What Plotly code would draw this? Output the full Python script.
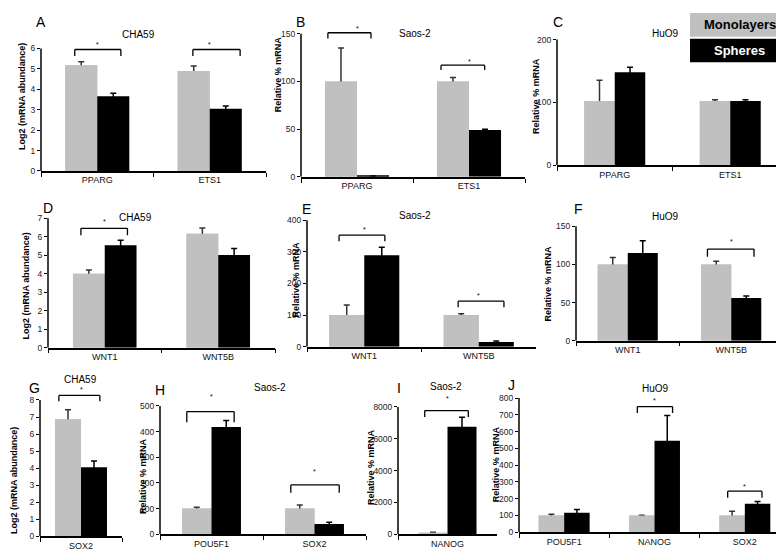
import plotly.graph_objects as go

W, H = 784, 550
GRAY = "#c0c0c0"
FONT = "Liberation Sans, Arial, sans-serif"

# ---------------- data ----------------
A_cats = ["PPARG", "ETS1"]
A_mono = [5.18, 4.90]
A_mono_err = [0.17, 0.24]
A_sph = [3.66, 3.05]
A_sph_err = [0.15, 0.13]

B_cats = ["PPARG", "ETS1"]
B_mono = [100, 100]
B_mono_err = [35, 4]
B_sph = [1, 49]
B_sph_err = [0, 1]

C_cats = ["PPARG", "ETS1"]
C_mono = [102, 102]
C_mono_err = [33, 2]
C_sph = [148, 102]
C_sph_err = [8, 2]

D_cats = ["WNT1", "WNT5B"]
D_mono = [4.0, 6.16]
D_mono_err = [0.2, 0.32]
D_sph = [5.54, 5.01]
D_sph_err = [0.27, 0.35]

E_cats = ["WNT1", "WNT5B"]
E_mono = [100, 100]
E_mono_err = [32, 4]
E_sph = [289, 15]
E_sph_err = [26, 3]

F_cats = ["WNT1", "WNT5B"]
F_mono = [100, 100]
F_mono_err = [9, 4]
F_sph = [115, 56]
F_sph_err = [16, 2.5]

G_cats = ["SOX2"]
G_mono = [6.87]
G_mono_err = [0.55]
G_sph = [4.05]
G_sph_err = [0.37]

H_cats = ["POU5F1", "SOX2"]
H_mono = [100, 100]
H_mono_err = [5, 14]
H_sph = [418, 40]
H_sph_err = [25, 7]

I_cats = ["NANOG"]
I_mono = [100]
I_mono_err = [30]
I_sph = [6750]
I_sph_err = [600]

J_cats = ["POU5F1", "NANOG", "SOX2"]
J_mono = [100, 100, 100]
J_mono_err = [8, 2, 25]
J_sph = [117, 545, 170]
J_sph_err = [18, 150, 14]

# significance brackets: (category, bracket top, bracket foot, star height)
A_sig = [("PPARG", 5.95, 5.63, 6.2), ("ETS1", 5.95, 5.63, 6.2)]
B_sig = [("PPARG", 151, 145, 155), ("ETS1", 117, 112, 121)]
C_sig = []
D_sig = [("WNT1", 6.46, 6.09, 6.85)]
E_sig = [("WNT1", 353, 334, 370), ("WNT5B", 144, 125, 163)]
F_sig = [("WNT5B", 120, 110, 130)]
G_sig = [("SOX2", 8.27, 7.92, 8.62)]
H_sig = [("POU5F1", 478, 436, 538), ("SOX2", 192, 162, 243)]
I_sig = [("NANOG", 7770, 7360, 8500)]
J_sig = [("NANOG", 749, 710, 785), ("SOX2", 245, 206, 270)]

LOG_T = "Log2 (mRNA abundance)"
REL_T = "Relative % mRNA"

# ---------------- layout spec (pixel geometry) ----------------
panels = [
    dict(letter="A", title="CHA59", ylab=LOG_T,
         data=(A_cats, A_mono, A_mono_err, A_sph, A_sph_err, A_sig),
         geom=(33, 258, 163, 39), top=6, dtick=1, ymax=6.6, bw=0.285,
         title_xy=(130, 25), letter_xy=(33, 12), ylab_xy=(14, 88),
         shifts=[(-0.2, 0.21), (-0.15, 0.27)]),
    dict(letter="B", title="Saos-2", ylab=REL_T,
         data=(B_cats, B_mono, B_mono_err, B_sph, B_sph_err, B_sig),
         geom=(293, 517, 169, 24), top=150, dtick=50, ymax=160, bw=0.286,
         title_xy=(407, 24), letter_xy=(292, 12), ylab_xy=(270, 65),
         shifts=[(-0.26, 0.125), (-0.25, 0.14)]),
    dict(letter="C", title="HuO9", ylab=REL_T,
         data=(C_cats, C_mono, C_mono_err, C_sph, C_sph_err, C_sig),
         geom=(549, 780, 157, 30), top=200, dtick=100, ymax=205, bw=0.264,
         title_xy=(657, 24), letter_xy=(550, 12), ylab_xy=(528, 87),
         shifts=[]),
    dict(letter="D", title="CHA59", ylab=LOG_T,
         data=(D_cats, D_mono, D_mono_err, D_sph, D_sph_err, D_sig),
         geom=(40, 267, 342, 211), top=7, dtick=1, ymax=7.2, bw=0.28,
         title_xy=(127, 210), letter_xy=(40, 201), ylab_xy=(18, 280),
         shifts=[(-0.21, 0.2)]),
    dict(letter="E", title="Saos-2", ylab=REL_T,
         data=(E_cats, E_mono, E_mono_err, E_sph, E_sph_err, E_sig),
         geom=(299, 528, 341, 213), top=400, dtick=100, ymax=410, bw=0.306,
         title_xy=(407, 208), letter_xy=(298, 202), ylab_xy=(288, 273),
         shifts=[(-0.22, 0.18), (-0.18, 0.22)]),
    dict(letter="F", title="HuO9", ylab=REL_T,
         data=(F_cats, F_mono, F_mono_err, F_sph, F_sph_err, F_sig),
         geom=(568, 775, 335, 219), top=150, dtick=50, ymax=155, bw=0.29,
         title_xy=(657, 209), letter_xy=(570, 202), ylab_xy=(540, 277),
         shifts=[(-0.23, 0.22)]),
    dict(letter="G", title="CHA59", ylab=LOG_T,
         data=(G_cats, G_mono, G_mono_err, G_sph, G_sph_err, G_sig),
         geom=(32, 114, 533, 395), top=8, dtick=1, ymax=8.9, bw=0.317,
         title_xy=(72, 374), letter_xy=(26, 383), ylab_xy=(6, 477),
         shifts=[(-0.27, 0.23)]),
    dict(letter="H", title="Saos-2", ylab=REL_T,
         data=(H_cats, H_mono, H_mono_err, H_sph, H_sph_err, H_sig),
         geom=(152, 358, 531, 401), top=500, dtick=100, ymax=560, bw=0.286,
         title_xy=(262, 382), letter_xy=(152, 385), ylab_xy=(135, 472),
         shifts=[(-0.24, 0.22), (-0.23, 0.24)]),
    dict(letter="I", title="Saos-2", ylab=REL_T,
         data=(I_cats, I_mono, I_mono_err, I_sph, I_sph_err, I_sig),
         geom=(390, 489, 531, 402), top=8000, dtick=2000, ymax=8800, bw=0.293,
         title_xy=(438, 381), letter_xy=(391, 383), ylab_xy=(363, 463),
         shifts=[(-0.23, 0.21)]),
    dict(letter="J", title="HuO9", ylab=REL_T,
         data=(J_cats, J_mono, J_mono_err, J_sph, J_sph_err, J_sig),
         geom=(511, 782, 529, 393), top=800, dtick=100, ymax=830, bw=0.282,
         title_xy=(647, 383), letter_xy=(503, 380), ylab_xy=(488, 460),
         shifts=[(-0.19, 0.2), (-0.19, 0.19)]),
]


def px(x):
    return x / W


def py(y):
    return 1 - y / H


fig = go.Figure()
shapes = []
annos = []
layout_axes = {}

for i, p in enumerate(panels):
    n = i + 1
    xa = "x" if n == 1 else f"x{n}"
    ya = "y" if n == 1 else f"y{n}"
    cats, mono, monoe, sph, sphe, sig = p["data"]
    bw = p["bw"]
    common = dict(x=cats, xaxis=xa, yaxis=ya, showlegend=False, hoverinfo="skip")
    # monolayer bars with error bars, then a plain copy on top hides the lower half
    fig.add_trace(go.Bar(y=mono, width=bw, offset=-bw,
                         marker=dict(color=GRAY, line=dict(width=0)),
                         error_y=dict(type="data", array=monoe, symmetric=True,
                                      color="#333333", thickness=1.5, width=3),
                         **common))
    fig.add_trace(go.Bar(y=mono, width=bw, offset=-bw,
                         marker=dict(color=GRAY, line=dict(width=0)), **common))
    fig.add_trace(go.Bar(y=sph, width=bw, offset=0,
                         marker=dict(color="black", line=dict(width=0)),
                         error_y=dict(type="data", array=sphe, symmetric=True,
                                      color="black", thickness=1.5, width=3),
                         **common))

    xl, xr, y0, ytop = p["geom"]
    scale = (y0 - ytop) / p["top"]
    top_px = y0 - p["ymax"] * scale
    xkey = "xaxis" if n == 1 else f"xaxis{n}"
    ykey = "yaxis" if n == 1 else f"yaxis{n}"
    layout_axes[xkey] = dict(
        domain=[px(xl), px(xr)], anchor=ya, type="category",
        range=[-0.5, len(cats) - 0.5],
        showline=True, linecolor="black", linewidth=1.5,
        ticks="outside", tickson="boundaries", ticklen=4, tickcolor="black",
        tickwidth=1, tickfont=dict(size=9, color="#111", family=FONT),
        showgrid=False, zeroline=False, fixedrange=True)
    tv = [k * p["dtick"] for k in range(int(round(p["top"] / p["dtick"])) + 1)]
    layout_axes[ykey] = dict(
        domain=[py(y0), py(top_px)], anchor=xa, range=[0, p["ymax"]],
        tickvals=tv, ticktext=[f"{v:g}" for v in tv],
        showline=False, ticks="outside", ticklen=3, tickcolor="black", tickwidth=1,
        tickfont=dict(size=8.5, color="#222", family=FONT),
        showgrid=False, zeroline=False, fixedrange=True)

    # y axis line (only up to the top tick)
    shapes.append(dict(type="line", xref=f"{xa} domain", yref=ya, x0=0, x1=0,
                       y0=0, y1=p["top"], line=dict(color="black", width=1.5)))

    # significance brackets
    for (cat, ytopb, yfoot, ystar), (sl, sr) in zip(sig, p["shifts"]):
        ln = dict(color="black", width=1.3)
        shapes.append(dict(type="line", xref=xa, yref=ya, x0=cat, x1=cat,
                           x0shift=sl, x1shift=sr, y0=ytopb, y1=ytopb, line=ln))
        shapes.append(dict(type="line", xref=xa, yref=ya, x0=cat, x1=cat,
                           x0shift=sl, x1shift=sl, y0=yfoot, y1=ytopb, line=ln))
        shapes.append(dict(type="line", xref=xa, yref=ya, x0=cat, x1=cat,
                           x0shift=sr, x1shift=sr, y0=yfoot, y1=ytopb, line=ln))
        annos.append(dict(x=cat, y=ystar, xref=xa, yref=ya, text="*",
                          showarrow=False, font=dict(size=7, color="black", family=FONT)))

    tx, ty = p["title_xy"]
    annos.append(dict(x=px(tx), y=py(ty), xref="paper", yref="paper", text=p["title"],
                      showarrow=False, xanchor="center", yanchor="middle",
                      font=dict(size=10, color="black", family=FONT)))
    lx, ly = p["letter_xy"]
    annos.append(dict(x=px(lx), y=py(ly), xref="paper", yref="paper", text=p["letter"],
                      showarrow=False, xanchor="center", yanchor="middle",
                      font=dict(size=14, color="black", family=FONT)))
    ax_, ay_ = p["ylab_xy"]
    annos.append(dict(x=px(ax_), y=py(ay_), xref="paper", yref="paper",
                      text="<b>" + p["ylab"] + "</b>", textangle=-90,
                      showarrow=False, xanchor="center", yanchor="middle",
                      font=dict(size=9, color="black", family=FONT)))

# legend boxes
legend_items = [("Monolayers", GRAY, "black", 3, 27), ("Spheres", "black", "white", 29, 53)]
for name, fill, tcol, yt, yb in legend_items:
    shapes.append(dict(type="rect", xref="paper", yref="paper",
                       x0=px(682), x1=px(781), y0=py(yb), y1=py(yt),
                       fillcolor=fill, line=dict(width=0), layer="above"))
    annos.append(dict(x=px(731.5), y=py((yt + yb) / 2), xref="paper", yref="paper",
                      text="<b>" + name + "</b>", showarrow=False,
                      xanchor="center", yanchor="middle",
                      font=dict(size=13, color=tcol, family=FONT)))

fig.update_layout(
    width=W, height=H, margin=dict(l=0, r=0, t=0, b=0),
    paper_bgcolor="white", plot_bgcolor="white",
    barmode="overlay", showlegend=False,
    font=dict(family=FONT, color="black"),
    shapes=shapes, annotations=annos,
    **layout_axes)

fig.write_html("out.html")
